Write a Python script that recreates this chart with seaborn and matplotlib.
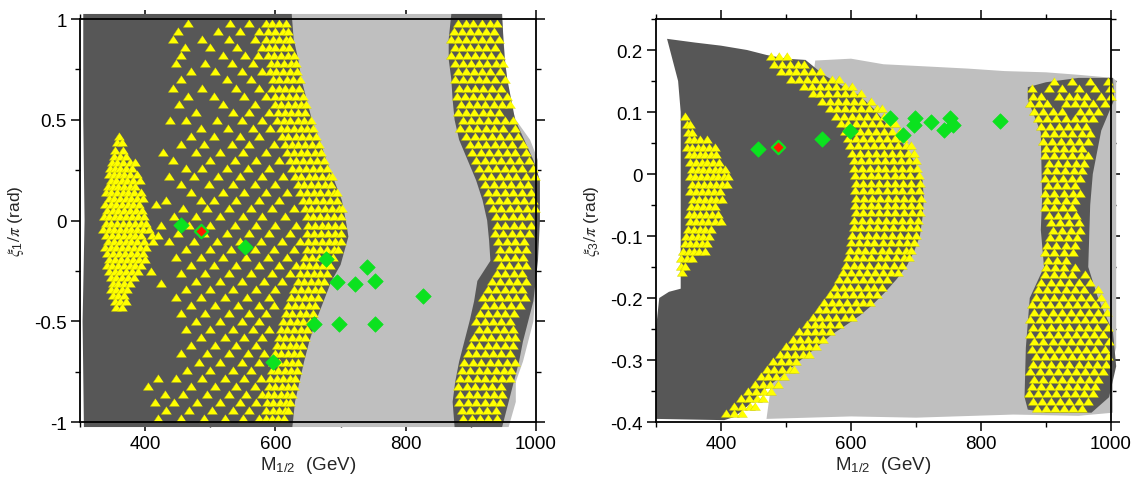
import matplotlib
matplotlib.use("Agg")
import matplotlib.pyplot as plt
import numpy as np
import pandas as pd
import seaborn as sns
from matplotlib.ticker import FixedLocator, FuncFormatter, MultipleLocator

sns.set_style("ticks")
plt.rcParams["font.family"] = ["Liberation Sans", "DejaVu Sans"]
plt.rcParams["axes.unicode_minus"] = False
plt.rcParams["mathtext.fontset"] = "stix"

# ---------------- colours ----------------
DARK = "#575757"
LIGHT = "#bfbfbf"
YELLOW = "#ffff00"
YEDGE = "#caca00"
GREEN = "#0be21f"
RED = "#ff1a00"

# ---------------- LEFT PANEL (xi_1/pi) ----------------
light_l_x = [598, 947, 950, 958, 969, 991, 1003, 1003, 1000, 996, 980, 969, 969, 958, 598]
light_l_y = [1.025, 1.025, 0.9, 0.6, 0.5, 0.4, 0.3, 0.0, -0.3, -0.5, -0.7, -0.8, -0.9, -1.025, -1.025]

dark_l1_x = [305, 625, 628, 635, 640, 648, 656, 668, 678, 690, 702, 708, 712, 706, 700, 686, 674,
             662, 652, 644, 637, 630, 626, 306, 304, 307, 305]
dark_l1_y = [1.025, 1.025, 0.9, 0.8, 0.7, 0.6, 0.5, 0.4, 0.3, 0.2, 0.1, 0.0, -0.08, -0.15, -0.22, -0.3, -0.4,
             -0.5, -0.6, -0.7, -0.8, -0.9, -1.025, -1.025, -0.5, 0.0, 0.5]

dark_l2_x = [870, 866, 866, 870, 872, 875, 882, 895, 908, 918, 925, 928, 930, 910, 905, 898, 890, 882, 876, 872, 875,
             948, 958, 966, 974, 980, 988, 996, 1003, 1006, 1006, 996, 982, 968, 962, 956, 952, 950, 948]
dark_l2_y = [1.025, 0.9, 0.8, 0.7, 0.6, 0.5, 0.4, 0.3, 0.2, 0.1, 0.0, -0.1, -0.2, -0.3, -0.4, -0.5, -0.6, -0.7, -0.8, -0.9, -1.025,
             -1.025, -0.9, -0.8, -0.7, -0.6, -0.5, -0.4, -0.2, 0.0, 0.2, 0.3, 0.4, 0.5, 0.6, 0.7, 0.8, 0.9, 1.025]

# yellow triangles: rows of (xi_1/pi, [M_1/2 values])
tri_l_left = [
    (0.42, [360]), (0.39, [357, 364]), (0.35, [354, 366]), (0.32, [352, 361, 371]),
    (0.29, [349, 357, 366, 376, 384]), (0.26, [346, 354, 362, 371, 380]),
    (0.23, [344, 352, 360, 368, 377, 388]), (0.20, [347, 355, 364, 372, 381, 392]),
    (0.17, [343, 351, 359, 367, 376, 385]), (0.14, [340, 348, 357, 366, 374, 383, 393]),
    (0.11, [344, 352, 361, 370, 379, 388, 396]), (0.08, [339, 347, 356, 364, 373, 382, 391, 416]),
    (0.05, [342, 350, 359, 368, 377, 386, 395]), (0.02, [337, 345, 354, 362, 371, 380, 389, 398]),
    (-0.01, [340, 348, 357, 366, 375, 384, 393, 402]), (-0.04, [336, 344, 352, 361, 370, 379, 388, 397, 406]),
    (-0.07, [340, 349, 358, 367, 376, 385, 394, 410, 420]), (-0.10, [343, 352, 361, 370, 379, 388, 398, 412]),
    (-0.13, [339, 347, 356, 365, 374, 383, 392, 402]), (-0.16, [342, 351, 360, 369, 378, 387, 396]),
    (-0.19, [345, 354, 363, 372, 381, 390, 400]), (-0.22, [341, 349, 358, 367, 376, 385, 394]),
    (-0.25, [344, 353, 362, 371, 380, 389, 409]), (-0.28, [347, 356, 365, 374, 383]),
    (-0.31, [350, 359, 368, 377, 424]), (-0.34, [348, 356, 364, 372]),
    (-0.37, [351, 359, 367]), (-0.40, [354, 362, 370]), (-0.43, [356, 364]),
]
tri_l_mid = [
    (0.98, [466, 531, 560]), (0.94, [450, 512, 545, 575]), (0.90, [443, 487, 528, 568]),
    (0.86, [461, 500, 541, 580]), (0.82, [455, 520, 553, 574]), (0.78, [447, 492, 534, 566]),
    (0.74, [471, 508, 549, 580]), (0.70, [455, 525, 562]), (0.66, [443, 487, 540, 575]),
    (0.62, [466, 505, 552, 585]), (0.58, [452, 520, 568]), (0.54, [478, 535, 560, 590]),
    (0.50, [438, 462, 510, 548, 580]), (0.46, [485, 527, 565, 592]), (0.42, [470, 505, 545, 575]),
    (0.38, [455, 490, 533, 560, 598]), (0.34, [428, 478, 515, 550, 585]), (0.30, [443, 500, 538, 570, 605]),
    (0.26, [462, 488, 525, 558, 590]), (0.22, [437, 475, 512, 545, 580, 612]), (0.18, [455, 498, 535, 568, 600]),
    (0.14, [470, 520, 552, 585, 618]), (0.10, [432, 485, 505, 540, 575, 605]), (0.06, [458, 495, 528, 562, 595, 628]),
    (0.02, [445, 478, 515, 550, 580, 615]), (-0.02, [425, 468, 500, 538, 570, 600, 632]),
    (-0.06, [450, 490, 525, 560, 590, 622]), (-0.10, [437, 475, 510, 545, 578, 610, 638]),
    (-0.14, [462, 500, 532, 568, 598, 628]), (-0.18, [448, 485, 520, 555, 588, 618]),
    (-0.22, [470, 505, 540, 575, 605, 632]), (-0.26, [455, 492, 528, 562, 595, 622]),
    (-0.30, [478, 515, 548, 582, 610]), (-0.34, [462, 500, 535, 570, 600]),
    (-0.38, [448, 485, 522, 556, 590]), (-0.42, [470, 508, 542, 575, 598]),
    (-0.46, [455, 492, 528, 560, 585]), (-0.50, [478, 515, 548, 575]),
    (-0.54, [462, 500, 535, 565, 590]), (-0.58, [485, 522, 552, 580]),
    (-0.62, [470, 508, 540, 570]), (-0.66, [455, 495, 528, 558, 582]),
    (-0.70, [482, 515, 548, 575]), (-0.74, [465, 500, 535, 562]),
    (-0.78, [420, 448, 488, 522, 552, 578]), (-0.82, [405, 470, 508, 540, 568]),
    (-0.86, [430, 458, 495, 528, 555, 580]), (-0.90, [415, 445, 480, 515, 545, 570]),
    (-0.94, [432, 468, 502, 535, 560]), (-0.98, [420, 455, 490, 522, 550, 575]),
]
tri_l_band = [
    (0.98, [585, 595, 606, 616]), (0.94, [589, 600, 611, 619]), (0.90, [586, 596, 606, 616, 623]),
    (0.86, [590, 600, 611, 621]), (0.82, [588, 598, 608, 619, 629]), (0.78, [593, 603, 613, 624, 631]),
    (0.74, [591, 601, 612, 622, 633]), (0.70, [596, 606, 617, 627, 637]), (0.66, [595, 605, 615, 626, 636]),
    (0.62, [600, 610, 621, 631, 642]), (0.58, [599, 609, 619, 630, 640, 647]), (0.54, [604, 614, 624, 635, 645]),
    (0.50, [603, 613, 623, 634, 644, 654]), (0.46, [608, 618, 628, 639, 649, 658]),
    (0.42, [610, 620, 631, 641, 652, 662]), (0.38, [615, 625, 635, 646, 656, 667]),
    (0.34, [618, 628, 639, 649, 660, 670]), (0.30, [622, 632, 643, 653, 664, 675]),
    (0.26, [626, 636, 647, 657, 668, 679]), (0.22, [630, 640, 651, 661, 672, 682, 687]),
    (0.18, [634, 644, 655, 665, 676, 686]), (0.14, [638, 648, 659, 669, 680, 690, 695]),
    (0.10, [642, 652, 663, 673, 684, 694]), (0.06, [645, 655, 666, 676, 687, 697, 702]),
    (0.02, [648, 658, 669, 679, 690, 700]), (-0.02, [650, 660, 671, 681, 692, 702]),
    (-0.06, [649, 659, 670, 680, 691, 701]), (-0.10, [650, 661, 671, 682, 692, 700]),
    (-0.14, [648, 658, 669, 679, 690, 696]), (-0.18, [646, 656, 667, 677, 688]),
    (-0.22, [642, 652, 663, 673, 684]), (-0.26, [638, 648, 659, 669, 679]),
    (-0.30, [634, 644, 655, 665, 674]), (-0.34, [629, 639, 650, 660, 670]),
    (-0.38, [624, 634, 645, 655, 665]), (-0.42, [620, 630, 641, 651, 661]),
    (-0.46, [616, 626, 637, 647, 657]), (-0.50, [612, 622, 633, 643, 653]),
    (-0.54, [608, 618, 629, 639, 649]), (-0.58, [605, 615, 626, 636, 645]),
    (-0.62, [602, 612, 622, 632, 641]), (-0.66, [599, 609, 619, 629, 638]),
    (-0.70, [596, 606, 616, 626, 635]), (-0.74, [594, 604, 614, 624, 633]),
    (-0.78, [592, 602, 612, 622, 630]), (-0.82, [590, 600, 610, 619, 628]),
    (-0.86, [588, 598, 608, 617, 625]), (-0.90, [587, 597, 607, 616, 622]),
    (-0.94, [586, 596, 605, 614, 619]), (-0.98, [586, 595, 604, 613]),
]
tri_l_right = [
    (0.98, [880, 892, 904, 917, 930, 940]), (0.94, [874, 886, 898, 911, 923, 936]),
    (0.90, [869, 881, 893, 905, 917, 930, 943]), (0.86, [875, 887, 899, 911, 924, 937]),
    (0.82, [870, 882, 894, 906, 918, 931, 945]), (0.78, [876, 888, 900, 912, 925, 938, 950]),
    (0.74, [880, 893, 905, 917, 930, 944]), (0.70, [876, 888, 900, 912, 924, 937, 952]),
    (0.66, [882, 894, 906, 919, 932, 946]), (0.62, [878, 891, 903, 915, 928, 941, 955]),
    (0.58, [885, 897, 910, 922, 935, 948, 960]), (0.54, [880, 892, 905, 918, 930, 943]),
    (0.50, [888, 900, 913, 926, 939, 952, 965]), (0.46, [884, 897, 910, 923, 936, 950, 968]),
    (0.42, [893, 906, 919, 932, 945, 958, 972]), (0.38, [898, 911, 924, 937, 950, 963, 980]),
    (0.34, [902, 915, 928, 941, 955, 968, 985]), (0.30, [908, 921, 934, 947, 960, 974, 990]),
    (0.26, [913, 926, 939, 952, 965, 979, 995]), (0.22, [918, 931, 944, 957, 970, 984, 998]),
    (0.18, [922, 936, 949, 962, 975, 988]), (0.14, [926, 939, 952, 965, 978, 992]),
    (0.10, [930, 943, 956, 969, 982, 995]), (0.06, [934, 947, 960, 973, 986, 998]),
    (0.02, [938, 951, 964, 977, 990]), (-0.02, [940, 953, 966, 979, 992]),
    (-0.06, [937, 950, 963, 976, 989]), (-0.10, [942, 955, 968, 981]),
    (-0.14, [945, 958, 971, 985]), (-0.18, [941, 954, 967, 980]),
    (-0.22, [946, 959, 972, 985]), (-0.26, [940, 953, 966, 979]),
    (-0.30, [932, 945, 958, 971, 984]), (-0.34, [926, 939, 952, 965, 978]),
    (-0.38, [918, 931, 944, 957, 970, 983]), (-0.42, [922, 935, 948, 961, 975]),
    (-0.46, [914, 927, 940, 953, 966]), (-0.50, [908, 921, 934, 947, 960]),
    (-0.54, [912, 925, 938, 951, 964]), (-0.58, [905, 918, 931, 944, 957, 968]),
    (-0.62, [900, 913, 926, 939, 952, 965]), (-0.66, [895, 908, 921, 934, 947, 960]),
    (-0.70, [890, 903, 916, 929, 942, 955, 967]), (-0.74, [886, 899, 912, 925, 938, 951, 962]),
    (-0.78, [883, 896, 909, 922, 935, 948, 960]), (-0.82, [881, 894, 907, 920, 933, 946]),
    (-0.86, [884, 897, 910, 923, 936, 948]), (-0.90, [882, 895, 908, 921, 934, 944]),
    (-0.94, [886, 899, 912, 925, 938]), (-0.98, [888, 901, 914, 927, 940]),
]
dia_l_x = [455, 553.6, 597, 658.7, 677, 695, 697.8, 721.5, 740.7, 752.3, 752.8, 827]
dia_l_y = [-0.02, -0.132, -0.702, -0.516, -0.19, -0.306, -0.516, -0.317, -0.231, -0.516, -0.302, -0.375]
red_l_x = [486]
red_l_y = [-0.053]

# ---------------- RIGHT PANEL (xi_3/pi) ----------------
light_r_x = [470, 545, 600, 650, 725, 780, 836, 900, 950, 1003, 1008, 1008, 1003, 1003, 950, 850, 700, 600, 470]
light_r_y = [-0.395, 0.183, 0.186, 0.177, 0.173, 0.170, 0.166, 0.164, 0.160, 0.155, 0.150, -0.280, -0.300, -0.385,
             -0.390, -0.388, -0.393, -0.391, -0.395]

dark_r1_x = [317, 360, 400, 440, 470, 500, 530, 558, 585, 614, 635, 653, 672, 686, 700, 710, 712, 710, 706, 697,
             686, 670, 653, 634, 614, 592, 569, 547, 525, 503, 481, 458, 436, 420, 405, 300, 300, 305, 320, 338,
             338, 334, 324]
dark_r1_y = [0.218, 0.212, 0.207, 0.200, 0.192, 0.186, 0.184, 0.160, 0.143, 0.126, 0.105, 0.083, 0.060, 0.040,
             0.015, -0.010, -0.040, -0.070, -0.100, -0.125, -0.148, -0.170, -0.190, -0.210, -0.228, -0.244, -0.260,
             -0.280, -0.298, -0.317, -0.336, -0.357, -0.379, -0.392, -0.397, -0.395, -0.250, -0.200, -0.190, -0.185,
             0.100, 0.150, 0.190]

dark_r2_x = [872, 900, 950, 1003, 1005, 985, 972, 968, 965, 980, 1003, 1008, 997, 970, 900, 872, 867, 869, 875,
             897, 892, 894, 892, 872]
dark_r2_y = [0.140, 0.148, 0.155, 0.155, 0.120, 0.070, 0.000, -0.050, -0.150, -0.200, -0.255, -0.310, -0.360,
             -0.385, -0.385, -0.380, -0.360, -0.280, -0.200, -0.150, -0.090, -0.040, 0.067, 0.120]

tri_r_left = [
    (0.093, [344]), (0.080, [347, 352]), (0.068, [349, 356]), (0.056, [350, 358, 368, 378]),
    (0.044, [347, 355, 364, 373, 382, 390]), (0.032, [350, 359, 367, 376, 385, 393]),
    (0.020, [353, 361, 370, 379, 388, 397]), (0.008, [355, 364, 372, 381, 390, 399, 406]),
    (-0.004, [352, 360, 369, 378, 387, 396, 405, 410]), (-0.016, [356, 365, 374, 383, 392, 401, 409]),
    (-0.028, [353, 362, 371, 380, 389, 398]), (-0.040, [357, 366, 375, 384, 393, 402]),
    (-0.052, [354, 363, 372, 381, 390]), (-0.064, [350, 359, 368, 377, 386, 396]),
    (-0.076, [353, 362, 371, 380, 390, 400]), (-0.088, [349, 358, 367, 376, 385]),
    (-0.100, [346, 355, 364, 373, 382]), (-0.112, [344, 352, 361, 370, 378]),
    (-0.124, [342, 350, 358, 366, 375]), (-0.136, [339, 347, 356]),
    (-0.148, [338, 345]), (-0.158, [340]),
]
tri_r_arc = [
    (0.190, [477, 489, 501]), (0.178, [482, 494, 506, 518, 528]),
    (0.166, [492, 504, 516, 528, 540, 552]), (0.154, [508, 520, 532, 545, 557, 570, 582]),
    (0.142, [528, 540, 552, 565, 577, 590, 601]), (0.130, [541, 553, 565, 578, 590, 603, 615]),
    (0.118, [556, 568, 580, 592, 604, 617, 630]), (0.106, [567, 579, 591, 603, 616, 628, 640, 648]),
    (0.094, [577, 589, 601, 613, 625, 638, 650]), (0.082, [584, 596, 608, 620, 632, 645, 657, 667]),
    (0.070, [590, 602, 614, 626, 638, 651, 663, 675]), (0.058, [595, 607, 619, 631, 643, 656, 668, 680]),
    (0.046, [599, 611, 623, 635, 647, 660, 672, 684, 692]), (0.034, [602, 614, 626, 638, 650, 663, 675, 687, 697]),
    (0.022, [604, 616, 628, 640, 652, 665, 677, 689, 700]), (0.010, [605, 617, 629, 641, 653, 666, 678, 690, 702]),
    (-0.002, [606, 618, 630, 642, 654, 667, 679, 691, 704]), (-0.014, [607, 619, 631, 643, 656, 668, 680, 693, 706]),
    (-0.026, [606, 618, 630, 642, 655, 667, 679, 692, 704]), (-0.038, [608, 620, 632, 644, 657, 669, 681, 694, 707]),
    (-0.050, [606, 618, 630, 642, 655, 667, 680, 692, 704]), (-0.062, [607, 619, 631, 643, 656, 668, 681, 694, 706]),
    (-0.074, [605, 617, 629, 641, 654, 666, 679, 691, 703]), (-0.086, [604, 616, 628, 640, 653, 665, 678, 690, 702]),
    (-0.098, [602, 614, 626, 638, 651, 663, 676, 688, 700]), (-0.110, [600, 612, 624, 636, 649, 661, 674, 686, 697]),
    (-0.122, [598, 610, 622, 634, 647, 659, 672, 684, 693]), (-0.134, [595, 607, 619, 631, 644, 656, 669, 681, 689]),
    (-0.146, [592, 604, 616, 628, 641, 653, 666, 678]), (-0.158, [588, 600, 612, 624, 637, 649, 662, 673]),
    (-0.170, [582, 594, 606, 618, 631, 643, 656]), (-0.182, [575, 587, 599, 611, 624, 636, 648]),
    (-0.194, [567, 579, 591, 603, 616, 628, 640]), (-0.206, [558, 570, 582, 594, 607, 619, 629]),
    (-0.218, [550, 562, 574, 586, 599, 611]), (-0.230, [541, 553, 565, 577, 590, 601]),
    (-0.242, [532, 544, 556, 568, 581]), (-0.254, [520, 532, 544, 556, 568]),
    (-0.266, [510, 522, 534, 546, 557]), (-0.278, [500, 512, 524, 536, 546]),
    (-0.290, [490, 502, 514, 526, 535]), (-0.302, [480, 492, 504, 516]),
    (-0.314, [470, 482, 494, 506, 512]), (-0.326, [461, 473, 485, 497]),
    (-0.338, [452, 464, 476, 488]), (-0.350, [442, 454, 466, 477]),
    (-0.362, [431, 443, 455, 465]), (-0.374, [420, 432, 444, 453]),
    (-0.386, [408, 420, 432]),
]
tri_r_right = [
    (0.150, [912, 940, 968, 995]), (0.138, [878, 905, 925, 950, 975, 998]),
    (0.126, [880, 893, 920, 935, 948, 962, 985, 1000]), (0.114, [876, 889, 902, 930, 945, 958, 972, 990]),
    (0.102, [882, 896, 910, 924, 952, 966, 980]), (0.090, [888, 902, 916, 930, 944, 958, 972]),
    (0.078, [892, 906, 920, 934, 948, 962]), (0.066, [898, 912, 926, 940, 955, 968]),
    (0.054, [895, 909, 923, 937, 951, 965]), (0.042, [900, 914, 928, 942, 956]),
    (0.030, [898, 912, 926, 940, 954, 964]), (0.018, [904, 918, 932, 946, 958]),
    (0.006, [901, 915, 929, 943, 955]), (-0.006, [898, 912, 926, 940, 952]),
    (-0.018, [903, 917, 931, 945]), (-0.030, [899, 913, 927, 941, 952]),
    (-0.042, [902, 916, 930, 944]), (-0.054, [898, 912, 926, 940]),
    (-0.066, [904, 918, 932, 946]), (-0.078, [908, 922, 936, 950]),
    (-0.090, [910, 924, 938, 952]), (-0.102, [906, 920, 934, 948]),
    (-0.114, [902, 916, 930, 944]), (-0.126, [899, 913, 927, 941]),
    (-0.138, [903, 917, 931]), (-0.150, [900, 914, 928, 945]),
    (-0.162, [898, 912, 926, 940, 960]), (-0.174, [893, 907, 921, 935, 950, 968]),
    (-0.186, [888, 902, 916, 930, 944, 958, 980]), (-0.198, [884, 898, 912, 926, 940, 954, 968, 985]),
    (-0.210, [878, 892, 906, 920, 934, 948, 962, 976, 990]), (-0.222, [882, 896, 910, 924, 938, 952, 966, 980, 994]),
    (-0.234, [876, 890, 904, 918, 932, 946, 960, 974, 988]), (-0.246, [880, 894, 908, 922, 936, 950, 964, 978, 995]),
    (-0.258, [876, 890, 904, 918, 932, 946, 960, 974, 988]), (-0.270, [882, 896, 910, 924, 938, 952, 966, 980, 997]),
    (-0.282, [878, 892, 906, 920, 934, 948, 962, 976, 990]), (-0.294, [884, 898, 912, 926, 940, 954, 968, 982, 996]),
    (-0.306, [880, 894, 908, 922, 936, 950, 964, 978, 992]), (-0.318, [876, 890, 904, 918, 932, 946, 960, 974, 988]),
    (-0.330, [882, 896, 910, 924, 938, 952, 966, 980]), (-0.342, [878, 892, 906, 920, 934, 948, 962, 976]),
    (-0.354, [874, 888, 902, 916, 930, 944, 958, 972]), (-0.366, [880, 894, 908, 922, 936, 950, 964]),
    (-0.378, [886, 900, 914, 928, 942, 955]),
]
dia_r_x = [457, 555.6, 598, 660, 679.4, 697, 698, 722.8, 742.8, 752.8, 756.7, 828.9]
dia_r_y = [0.041, 0.057, 0.0696, 0.090, 0.0626, 0.079, 0.091, 0.084, 0.071, 0.091, 0.079, 0.0857]
red_r_x = [488]
red_r_y = [0.044]

# ---------------- helpers ----------------
TRI = [(0, 0.75), (-1, -0.75), (1, -0.75)]


def rows_to_df(*groups):
    xs, ys = [], []
    for rows in groups:
        for yv, row in rows:
            for xv in row:
                xs.append(xv)
                ys.append(yv)
    return pd.DataFrame({"M": xs, "xi": ys})


def draw_panel(ax, lights, darks, tri_groups, dia_x, dia_y, red_x, red_y):
    for px, py in lights:
        ax.fill(px, py, color=LIGHT, lw=0, zorder=1, clip_on=False)
    for px, py in darks:
        ax.fill(px, py, color=DARK, lw=0, zorder=2, clip_on=False)
    tri = rows_to_df(*tri_groups)
    sns.scatterplot(data=tri, x="M", y="xi", ax=ax, marker=TRI, s=54, color=YELLOW,
                    edgecolor=YEDGE, linewidth=0.3, legend=False, zorder=3, clip_on=False)
    dia = pd.DataFrame({"M": dia_x, "xi": dia_y})
    sns.scatterplot(data=dia, x="M", y="xi", ax=ax, marker="D", s=62, color=GREEN,
                    edgecolor=GREEN, linewidth=0.5, legend=False, zorder=4)
    red = pd.DataFrame({"M": red_x, "xi": red_y})
    sns.scatterplot(data=red, x="M", y="xi", ax=ax, marker="D", s=46, color=RED,
                    edgecolor=GREEN, linewidth=1.6, legend=False, zorder=5)


def fmt(v, pos):
    if abs(v) < 1e-9:
        return "0"
    return f"{round(v, 3):g}"


def style_axes(ax, ymaj, ymin_step, ylim, ylabel):
    ax.set_xlim(300, 1000)
    ax.set_ylim(*ylim)
    ax.xaxis.set_major_locator(FixedLocator([400, 600, 800, 1000]))
    ax.xaxis.set_minor_locator(MultipleLocator(100))
    ax.yaxis.set_major_locator(FixedLocator(ymaj))
    ax.yaxis.set_minor_locator(MultipleLocator(ymin_step))
    ax.xaxis.set_major_formatter(FuncFormatter(fmt))
    ax.yaxis.set_major_formatter(FuncFormatter(fmt))
    ax.tick_params(which="major", direction="out", length=6.5, width=1.1, labelsize=13.5,
                   top=True, right=True, color="black", labelcolor="black")
    ax.tick_params(which="minor", direction="out", length=3.5, width=1.0, top=True, right=True, color="black")
    ax.tick_params(axis="y", which="major", pad=3)
    ax.tick_params(axis="x", which="major", pad=3)
    for sp in ax.spines.values():
        sp.set_linewidth(1.3)
        sp.set_color("black")
        sp.set_zorder(10)
    ax.set_xlabel(r"M$_{\mathregular{1/2}}$  (GeV)", fontsize=13.5, labelpad=1)
    ax.set_ylabel(ylabel, fontsize=12.5, labelpad=6)
    ax.set_facecolor("white")


fig = plt.figure(figsize=(11.37, 4.81), dpi=100)
ax1 = fig.add_axes([80 / 1137, 58 / 481, 456 / 1137, 403 / 481])
ax2 = fig.add_axes([656 / 1137, 58 / 481, 455 / 1137, 403 / 481])

draw_panel(ax1, [(light_l_x, light_l_y)], [(dark_l1_x, dark_l1_y), (dark_l2_x, dark_l2_y)],
           [tri_l_left, tri_l_mid, tri_l_band, tri_l_right], dia_l_x, dia_l_y, red_l_x, red_l_y)
draw_panel(ax2, [(light_r_x, light_r_y)], [(dark_r1_x, dark_r1_y), (dark_r2_x, dark_r2_y)],
           [tri_r_left, tri_r_arc, tri_r_right], dia_r_x, dia_r_y, red_r_x, red_r_y)

style_axes(ax1, [-1, -0.5, 0, 0.5, 1], 0.25, (-1, 1), r"$\xi_{\mathregular{1}}/\pi$ (rad)")
style_axes(ax2, [-0.4, -0.3, -0.2, -0.1, 0, 0.1, 0.2], 0.05, (-0.4, 0.25), r"$\xi_{\mathregular{3}}/\pi$ (rad)")

fig.savefig("out.png", dpi=100)
